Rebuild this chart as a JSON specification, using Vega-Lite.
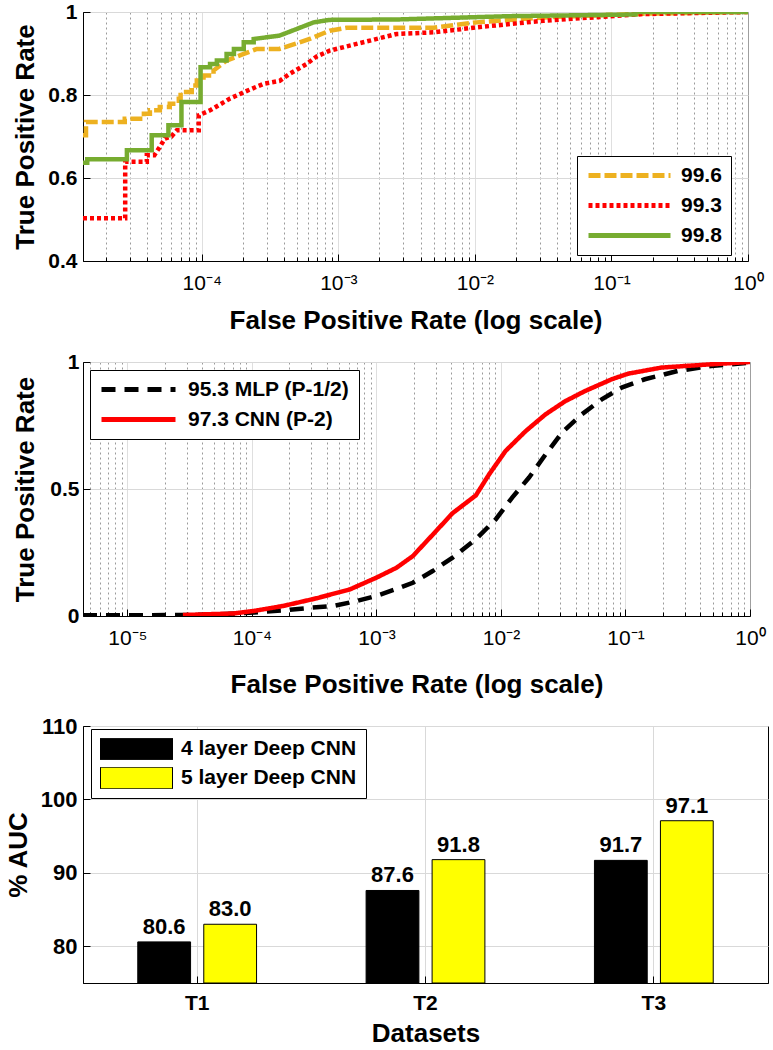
{
  "$schema": "https://vega.github.io/schema/vega-lite/v6.json",
  "padding": {"left": 4, "top": 0, "right": 2, "bottom": 0},
  "spacing": 16,
  "resolve": {"scale": {"color": "independent", "strokeDash": "independent"}, "legend": {"color": "independent", "strokeDash": "independent"}},
  "config": {
    "font": "Liberation Sans",
    "view": {"stroke": "black", "strokeWidth": 1},
    "axis": {
      "domainColor": "black", "tickColor": "black", "labelColor": "black", "titleColor": "black",
      "labelFont": "Liberation Sans", "titleFont": "Liberation Sans",
      "titleFontWeight": "bold", "titleFontSize": 26, "labelFontSize": 21, "labelFontWeight": "bold",
      "gridColor": "#d9d9d9", "gridOpacity": 1, "tickSize": -7, "labelFlush": false, "labelOverlap": false
    },
    "legend": {
      "labelFont": "Liberation Sans", "labelFontSize": 21, "labelFontWeight": "bold", "labelColor": "black",
      "labelLimit": 0, "strokeColor": "black", "fillColor": "white"
    }
  },
  "vconcat": [
    {
      "width": 665, "height": 249,
      "data": {"values": [
        {"model": "99.6", "i": 1, "fpr": 1.35e-5, "tpr": 0.703},
        {"model": "99.6", "i": 2, "fpr": 1.42e-5, "tpr": 0.703},
        {"model": "99.6", "i": 3, "fpr": 1.42e-5, "tpr": 0.735},
        {"model": "99.6", "i": 4, "fpr": 2.73e-5, "tpr": 0.735},
        {"model": "99.6", "i": 5, "fpr": 2.73e-5, "tpr": 0.743},
        {"model": "99.6", "i": 6, "fpr": 3.77e-5, "tpr": 0.743},
        {"model": "99.6", "i": 7, "fpr": 3.77e-5, "tpr": 0.755},
        {"model": "99.6", "i": 8, "fpr": 4.17e-5, "tpr": 0.755},
        {"model": "99.6", "i": 9, "fpr": 4.17e-5, "tpr": 0.763},
        {"model": "99.6", "i": 10, "fpr": 4.93e-5, "tpr": 0.763},
        {"model": "99.6", "i": 11, "fpr": 4.93e-5, "tpr": 0.771},
        {"model": "99.6", "i": 12, "fpr": 5.83e-5, "tpr": 0.771},
        {"model": "99.6", "i": 13, "fpr": 5.83e-5, "tpr": 0.779},
        {"model": "99.6", "i": 14, "fpr": 6.79e-5, "tpr": 0.779},
        {"model": "99.6", "i": 15, "fpr": 6.79e-5, "tpr": 0.791},
        {"model": "99.6", "i": 16, "fpr": 7.0e-5, "tpr": 0.791},
        {"model": "99.6", "i": 17, "fpr": 7.0e-5, "tpr": 0.807},
        {"model": "99.6", "i": 18, "fpr": 8.45e-5, "tpr": 0.807},
        {"model": "99.6", "i": 19, "fpr": 8.45e-5, "tpr": 0.823},
        {"model": "99.6", "i": 20, "fpr": 9.2e-5, "tpr": 0.823},
        {"model": "99.6", "i": 21, "fpr": 9.2e-5, "tpr": 0.835},
        {"model": "99.6", "i": 22, "fpr": 1.03e-4, "tpr": 0.835},
        {"model": "99.6", "i": 23, "fpr": 1.03e-4, "tpr": 0.847},
        {"model": "99.6", "i": 24, "fpr": 1.22e-4, "tpr": 0.847},
        {"model": "99.6", "i": 25, "fpr": 1.22e-4, "tpr": 0.859},
        {"model": "99.6", "i": 26, "fpr": 1.52e-4, "tpr": 0.883},
        {"model": "99.6", "i": 27, "fpr": 2.03e-4, "tpr": 0.899},
        {"model": "99.6", "i": 28, "fpr": 2.53e-4, "tpr": 0.911},
        {"model": "99.6", "i": 29, "fpr": 3.7e-4, "tpr": 0.911},
        {"model": "99.6", "i": 30, "fpr": 4.4e-4, "tpr": 0.919},
        {"model": "99.6", "i": 31, "fpr": 6.17e-4, "tpr": 0.935},
        {"model": "99.6", "i": 32, "fpr": 8.65e-4, "tpr": 0.955},
        {"model": "99.6", "i": 33, "fpr": 1.15e-3, "tpr": 0.962},
        {"model": "99.6", "i": 34, "fpr": 4.99e-3, "tpr": 0.962},
        {"model": "99.6", "i": 35, "fpr": 1.03e-2, "tpr": 0.975},
        {"model": "99.6", "i": 36, "fpr": 3.18e-2, "tpr": 0.987},
        {"model": "99.6", "i": 37, "fpr": 0.171, "tpr": 0.996},
        {"model": "99.6", "i": 38, "fpr": 1, "tpr": 1.0},
        {"model": "99.3", "i": 1, "fpr": 1.35e-5, "tpr": 0.503},
        {"model": "99.3", "i": 2, "fpr": 2.75e-5, "tpr": 0.503},
        {"model": "99.3", "i": 3, "fpr": 2.75e-5, "tpr": 0.639},
        {"model": "99.3", "i": 4, "fpr": 3.96e-5, "tpr": 0.639},
        {"model": "99.3", "i": 5, "fpr": 3.96e-5, "tpr": 0.655},
        {"model": "99.3", "i": 6, "fpr": 4.5e-5, "tpr": 0.655},
        {"model": "99.3", "i": 7, "fpr": 4.93e-5, "tpr": 0.675},
        {"model": "99.3", "i": 8, "fpr": 5.37e-5, "tpr": 0.695},
        {"model": "99.3", "i": 9, "fpr": 6.0e-5, "tpr": 0.700},
        {"model": "99.3", "i": 10, "fpr": 6.57e-5, "tpr": 0.715},
        {"model": "99.3", "i": 11, "fpr": 9.5e-5, "tpr": 0.715},
        {"model": "99.3", "i": 12, "fpr": 9.5e-5, "tpr": 0.751},
        {"model": "99.3", "i": 13, "fpr": 1.15e-4, "tpr": 0.763},
        {"model": "99.3", "i": 14, "fpr": 1.6e-4, "tpr": 0.791},
        {"model": "99.3", "i": 15, "fpr": 2.14e-4, "tpr": 0.810},
        {"model": "99.3", "i": 16, "fpr": 2.84e-4, "tpr": 0.827},
        {"model": "99.3", "i": 17, "fpr": 3.72e-4, "tpr": 0.834},
        {"model": "99.3", "i": 18, "fpr": 4.4e-4, "tpr": 0.851},
        {"model": "99.3", "i": 19, "fpr": 5.87e-4, "tpr": 0.875},
        {"model": "99.3", "i": 20, "fpr": 6.95e-4, "tpr": 0.893},
        {"model": "99.3", "i": 21, "fpr": 8.65e-4, "tpr": 0.907},
        {"model": "99.3", "i": 22, "fpr": 2.67e-3, "tpr": 0.947},
        {"model": "99.3", "i": 23, "fpr": 4.99e-3, "tpr": 0.951},
        {"model": "99.3", "i": 24, "fpr": 1.03e-2, "tpr": 0.963},
        {"model": "99.3", "i": 25, "fpr": 3.18e-2, "tpr": 0.979},
        {"model": "99.3", "i": 26, "fpr": 0.171, "tpr": 0.995},
        {"model": "99.3", "i": 27, "fpr": 1, "tpr": 1.0},
        {"model": "99.8", "i": 1, "fpr": 1.35e-5, "tpr": 0.637},
        {"model": "99.8", "i": 2, "fpr": 1.45e-5, "tpr": 0.637},
        {"model": "99.8", "i": 3, "fpr": 1.45e-5, "tpr": 0.645},
        {"model": "99.8", "i": 4, "fpr": 2.83e-5, "tpr": 0.645},
        {"model": "99.8", "i": 5, "fpr": 2.83e-5, "tpr": 0.667},
        {"model": "99.8", "i": 6, "fpr": 4.3e-5, "tpr": 0.667},
        {"model": "99.8", "i": 7, "fpr": 4.3e-5, "tpr": 0.703},
        {"model": "99.8", "i": 8, "fpr": 5.7e-5, "tpr": 0.703},
        {"model": "99.8", "i": 9, "fpr": 5.7e-5, "tpr": 0.727},
        {"model": "99.8", "i": 10, "fpr": 7.1e-5, "tpr": 0.727},
        {"model": "99.8", "i": 11, "fpr": 7.1e-5, "tpr": 0.783},
        {"model": "99.8", "i": 12, "fpr": 9.8e-5, "tpr": 0.783},
        {"model": "99.8", "i": 13, "fpr": 9.8e-5, "tpr": 0.867},
        {"model": "99.8", "i": 14, "fpr": 1.15e-4, "tpr": 0.867},
        {"model": "99.8", "i": 15, "fpr": 1.15e-4, "tpr": 0.875},
        {"model": "99.8", "i": 16, "fpr": 1.29e-4, "tpr": 0.875},
        {"model": "99.8", "i": 17, "fpr": 1.29e-4, "tpr": 0.883},
        {"model": "99.8", "i": 18, "fpr": 1.52e-4, "tpr": 0.883},
        {"model": "99.8", "i": 19, "fpr": 1.52e-4, "tpr": 0.899},
        {"model": "99.8", "i": 20, "fpr": 1.72e-4, "tpr": 0.899},
        {"model": "99.8", "i": 21, "fpr": 1.72e-4, "tpr": 0.911},
        {"model": "99.8", "i": 22, "fpr": 2.03e-4, "tpr": 0.911},
        {"model": "99.8", "i": 23, "fpr": 2.03e-4, "tpr": 0.927},
        {"model": "99.8", "i": 24, "fpr": 2.4e-4, "tpr": 0.927},
        {"model": "99.8", "i": 25, "fpr": 2.4e-4, "tpr": 0.935},
        {"model": "99.8", "i": 26, "fpr": 3.7e-4, "tpr": 0.943},
        {"model": "99.8", "i": 27, "fpr": 4.95e-4, "tpr": 0.959},
        {"model": "99.8", "i": 28, "fpr": 6.6e-4, "tpr": 0.975},
        {"model": "99.8", "i": 29, "fpr": 8.6e-4, "tpr": 0.981},
        {"model": "99.8", "i": 30, "fpr": 2.7e-3, "tpr": 0.982},
        {"model": "99.8", "i": 31, "fpr": 1.8e-2, "tpr": 0.99},
        {"model": "99.8", "i": 32, "fpr": 0.15, "tpr": 0.994},
        {"model": "99.8", "i": 33, "fpr": 0.15, "tpr": 1.0},
        {"model": "99.8", "i": 34, "fpr": 1, "tpr": 1.0}
      ]},
      "mark": {"type": "line", "strokeWidth": 4.5, "clip": true},
      "encoding": {
        "x": {
          "field": "fpr", "type": "quantitative",
          "scale": {"type": "log", "domain": [1.35e-5, 1], "nice": false},
          "axis": {
            "title": "False Positive Rate (log scale)",
            "values": [2e-5,3e-5,4e-5,5e-5,6e-5,7e-5,8e-5,9e-5,1e-4,2e-4,3e-4,4e-4,5e-4,6e-4,7e-4,8e-4,9e-4,1e-3,2e-3,3e-3,4e-3,5e-3,6e-3,7e-3,8e-3,9e-3,0.01,0.02,0.03,0.04,0.05,0.06,0.07,0.08,0.09,0.1,0.2,0.3,0.4,0.5,0.6,0.7,0.8,0.9,1],
            "labelExpr": "abs(log(datum.value)/LN10 - round(log(datum.value)/LN10)) < 0.01 ? ['10⁰','10⁻¹','10⁻²','10⁻³','10⁻⁴','10⁻⁵'][-round(log(datum.value)/LN10)] : ''",
            "labelFontWeight": "normal",
            "labelPadding": 18, "titlePadding": 11,
            "gridDash": {"condition": {"test": "abs(log(datum.value)/LN10 - round(log(datum.value)/LN10)) < 0.01", "value": [1, 0]}, "value": [2, 3]},
            "gridColor": {"condition": {"test": "abs(log(datum.value)/LN10 - round(log(datum.value)/LN10)) < 0.01", "value": "#d4d4d4"}, "value": "#9a9a9a"},
            "tickSize": {"condition": {"test": "abs(log(datum.value)/LN10 - round(log(datum.value)/LN10)) < 0.01", "value": -7}, "value": -4}
          }
        },
        "y": {
          "field": "tpr", "type": "quantitative",
          "scale": {"domain": [0.4, 1], "nice": false, "zero": false},
          "axis": {"title": "True Positive Rate", "values": [0.4, 0.6, 0.8, 1], "format": "~g", "labelPadding": 13, "titlePadding": 9}
        },
        "color": {
          "field": "model", "type": "nominal",
          "scale": {"domain": ["99.6", "99.3", "99.8"], "range": ["#EDB120", "#FF0000", "#77AC30"]},
          "legend": {"title": null, "orient": "none", "legendX": 494, "legendY": 144, "symbolType": "stroke", "symbolSize": 6724, "symbolStrokeWidth": 5, "clipHeight": 21, "rowPadding": 8, "labelOffset": 8, "padding": 9}
        },
        "strokeDash": {
          "field": "model", "type": "nominal",
          "scale": {"domain": ["99.6", "99.3", "99.8"], "range": [[12, 4], [4, 3], [1, 0]]},
          "legend": {"title": null, "orient": "none", "legendX": 494, "legendY": 144, "symbolType": "stroke", "symbolSize": 6724, "symbolStrokeWidth": 5, "clipHeight": 21, "rowPadding": 8, "labelOffset": 8, "padding": 9}
        },
        "order": {"field": "i", "type": "quantitative"}
      }
    },
    {
      "width": 667, "height": 254,
      "data": {"values": [
        {"model": "95.3 MLP (P-1/2)", "fpr": 4.4e-6, "tpr": 0.003},
        {"model": "95.3 MLP (P-1/2)", "fpr": 1e-5, "tpr": 0.003},
        {"model": "95.3 MLP (P-1/2)", "fpr": 3e-5, "tpr": 0.004},
        {"model": "95.3 MLP (P-1/2)", "fpr": 5e-5, "tpr": 0.006},
        {"model": "95.3 MLP (P-1/2)", "fpr": 1.05e-4, "tpr": 0.014},
        {"model": "95.3 MLP (P-1/2)", "fpr": 1.8e-4, "tpr": 0.022},
        {"model": "95.3 MLP (P-1/2)", "fpr": 3.03e-4, "tpr": 0.033},
        {"model": "95.3 MLP (P-1/2)", "fpr": 4.49e-4, "tpr": 0.039},
        {"model": "95.3 MLP (P-1/2)", "fpr": 6.94e-4, "tpr": 0.059},
        {"model": "95.3 MLP (P-1/2)", "fpr": 1e-3, "tpr": 0.079},
        {"model": "95.3 MLP (P-1/2)", "fpr": 1.54e-3, "tpr": 0.111},
        {"model": "95.3 MLP (P-1/2)", "fpr": 1.96e-3, "tpr": 0.131},
        {"model": "95.3 MLP (P-1/2)", "fpr": 2.83e-3, "tpr": 0.177},
        {"model": "95.3 MLP (P-1/2)", "fpr": 4.09e-3, "tpr": 0.23},
        {"model": "95.3 MLP (P-1/2)", "fpr": 6.29e-3, "tpr": 0.302},
        {"model": "95.3 MLP (P-1/2)", "fpr": 9.1e-3, "tpr": 0.381},
        {"model": "95.3 MLP (P-1/2)", "fpr": 1.23e-2, "tpr": 0.466},
        {"model": "95.3 MLP (P-1/2)", "fpr": 1.68e-2, "tpr": 0.545},
        {"model": "95.3 MLP (P-1/2)", "fpr": 2.28e-2, "tpr": 0.636},
        {"model": "95.3 MLP (P-1/2)", "fpr": 3.09e-2, "tpr": 0.722},
        {"model": "95.3 MLP (P-1/2)", "fpr": 4.46e-2, "tpr": 0.794},
        {"model": "95.3 MLP (P-1/2)", "fpr": 6.45e-2, "tpr": 0.853},
        {"model": "95.3 MLP (P-1/2)", "fpr": 9.31e-2, "tpr": 0.899},
        {"model": "95.3 MLP (P-1/2)", "fpr": 0.143, "tpr": 0.932},
        {"model": "95.3 MLP (P-1/2)", "fpr": 0.264, "tpr": 0.965},
        {"model": "95.3 MLP (P-1/2)", "fpr": 0.487, "tpr": 0.984},
        {"model": "95.3 MLP (P-1/2)", "fpr": 1, "tpr": 0.997},
        {"model": "97.3 CNN (P-2)", "fpr": 2.79e-5, "tpr": 0.004},
        {"model": "97.3 CNN (P-2)", "fpr": 7.18e-5, "tpr": 0.010},
        {"model": "97.3 CNN (P-2)", "fpr": 1.04e-4, "tpr": 0.02},
        {"model": "97.3 CNN (P-2)", "fpr": 1.8e-4, "tpr": 0.04},
        {"model": "97.3 CNN (P-2)", "fpr": 3.32e-4, "tpr": 0.07},
        {"model": "97.3 CNN (P-2)", "fpr": 6.14e-4, "tpr": 0.105},
        {"model": "97.3 CNN (P-2)", "fpr": 1.0e-3, "tpr": 0.151},
        {"model": "97.3 CNN (P-2)", "fpr": 1.45e-3, "tpr": 0.19},
        {"model": "97.3 CNN (P-2)", "fpr": 1.96e-3, "tpr": 0.236},
        {"model": "97.3 CNN (P-2)", "fpr": 2.83e-3, "tpr": 0.32},
        {"model": "97.3 CNN (P-2)", "fpr": 4.09e-3, "tpr": 0.405},
        {"model": "97.3 CNN (P-2)", "fpr": 6.29e-3, "tpr": 0.475},
        {"model": "97.3 CNN (P-2)", "fpr": 8.04e-3, "tpr": 0.558},
        {"model": "97.3 CNN (P-2)", "fpr": 1.09e-2, "tpr": 0.65},
        {"model": "97.3 CNN (P-2)", "fpr": 1.58e-2, "tpr": 0.728},
        {"model": "97.3 CNN (P-2)", "fpr": 2.28e-2, "tpr": 0.794},
        {"model": "97.3 CNN (P-2)", "fpr": 3.29e-2, "tpr": 0.846},
        {"model": "97.3 CNN (P-2)", "fpr": 4.75e-2, "tpr": 0.886},
        {"model": "97.3 CNN (P-2)", "fpr": 7.75e-2, "tpr": 0.932},
        {"model": "97.3 CNN (P-2)", "fpr": 0.105, "tpr": 0.954},
        {"model": "97.3 CNN (P-2)", "fpr": 0.194, "tpr": 0.978},
        {"model": "97.3 CNN (P-2)", "fpr": 0.487, "tpr": 0.991},
        {"model": "97.3 CNN (P-2)", "fpr": 1, "tpr": 1.0}
      ]},
      "mark": {"type": "line", "strokeWidth": 4.5, "clip": true},
      "encoding": {
        "x": {
          "field": "fpr", "type": "quantitative",
          "scale": {"type": "log", "domain": [4.4e-6, 1], "nice": false},
          "axis": {
            "title": "False Positive Rate (log scale)",
            "values": [5e-6,6e-6,7e-6,8e-6,9e-6,1e-5,2e-5,3e-5,4e-5,5e-5,6e-5,7e-5,8e-5,9e-5,1e-4,2e-4,3e-4,4e-4,5e-4,6e-4,7e-4,8e-4,9e-4,1e-3,2e-3,3e-3,4e-3,5e-3,6e-3,7e-3,8e-3,9e-3,0.01,0.02,0.03,0.04,0.05,0.06,0.07,0.08,0.09,0.1,0.2,0.3,0.4,0.5,0.6,0.7,0.8,0.9,1],
            "labelExpr": "abs(log(datum.value)/LN10 - round(log(datum.value)/LN10)) < 0.01 ? ['10⁰','10⁻¹','10⁻²','10⁻³','10⁻⁴','10⁻⁵'][-round(log(datum.value)/LN10)] : ''",
            "labelFontWeight": "normal",
            "labelPadding": 18, "titlePadding": 20,
            "gridDash": {"condition": {"test": "abs(log(datum.value)/LN10 - round(log(datum.value)/LN10)) < 0.01", "value": [1, 0]}, "value": [2, 3]},
            "gridColor": {"condition": {"test": "abs(log(datum.value)/LN10 - round(log(datum.value)/LN10)) < 0.01", "value": "#d4d4d4"}, "value": "#9a9a9a"},
            "tickSize": {"condition": {"test": "abs(log(datum.value)/LN10 - round(log(datum.value)/LN10)) < 0.01", "value": -7}, "value": -4}
          }
        },
        "y": {
          "field": "tpr", "type": "quantitative",
          "scale": {"domain": [0, 1], "nice": false},
          "axis": {"title": "True Positive Rate", "values": [0, 0.5, 1], "format": "~g", "labelPadding": 11, "titlePadding": 11}
        },
        "color": {
          "field": "model", "type": "nominal",
          "scale": {"domain": ["95.3 MLP (P-1/2)", "97.3 CNN (P-2)"], "range": ["#000000", "#FF0000"]},
          "legend": {"title": null, "orient": "none", "legendX": 7, "legendY": 8, "symbolType": "stroke", "symbolSize": 5476, "symbolStrokeWidth": 5, "clipHeight": 21, "rowPadding": 8, "labelOffset": 10, "padding": 9}
        },
        "strokeDash": {
          "field": "model", "type": "nominal",
          "scale": {"domain": ["95.3 MLP (P-1/2)", "97.3 CNN (P-2)"], "range": [[14, 9], [1, 0]]},
          "legend": {"title": null, "orient": "none", "legendX": 7, "legendY": 8, "symbolType": "stroke", "symbolSize": 5476, "symbolStrokeWidth": 5, "clipHeight": 21, "rowPadding": 8, "labelOffset": 10, "padding": 9}
        }
      }
    },
    {
      "width": 685, "height": 257,
      "data": {"values": [
        {"dataset": "T1", "model": "4 layer Deep CNN", "auc": 80.6},
        {"dataset": "T1", "model": "5 layer Deep CNN", "auc": 83.0},
        {"dataset": "T2", "model": "4 layer Deep CNN", "auc": 87.6},
        {"dataset": "T2", "model": "5 layer Deep CNN", "auc": 91.8},
        {"dataset": "T3", "model": "4 layer Deep CNN", "auc": 91.7},
        {"dataset": "T3", "model": "5 layer Deep CNN", "auc": 97.1}
      ]},
      "encoding": {
        "x": {
          "field": "dataset", "type": "nominal",
          "scale": {"paddingInner": 0, "paddingOuter": 0},
          "axis": {"title": "Datasets", "labelAngle": 0, "bandPosition": 0.5, "grid": true, "labelPadding": 16, "titlePadding": 7}
        },
        "xOffset": {"field": "model", "type": "nominal", "scale": {"paddingInner": 0.2, "paddingOuter": 0.83}},
        "y": {
          "field": "auc", "type": "quantitative",
          "scale": {"domain": [75, 110], "nice": false, "zero": false},
          "axis": {"title": "% AUC", "values": [80, 90, 100, 110], "labelFontSize": 22, "labelPadding": 13, "titlePadding": 9}
        }
      },
      "layer": [
        {
          "mark": {"type": "bar", "stroke": "black", "strokeWidth": 1},
          "encoding": {
            "y2": {"datum": 75},
            "color": {
              "field": "model", "type": "nominal",
              "scale": {"domain": ["4 layer Deep CNN", "5 layer Deep CNN"], "range": ["#000000", "#FFFF00"]},
              "legend": {"title": null, "orient": "none", "legendX": 8, "legendY": 3, "symbolType": "M-1,-0.3H1V0.3H-1Z", "symbolSize": 5184, "symbolStrokeColor": "black", "symbolStrokeWidth": 1, "symbolOpacity": 1, "clipHeight": 22, "rowPadding": 7, "labelOffset": 8, "padding": 9}
            }
          }
        },
        {
          "mark": {"type": "text", "baseline": "bottom", "dy": -3, "fontSize": 22, "fontWeight": "bold", "font": "Liberation Sans", "color": "black"},
          "encoding": {"text": {"field": "auc", "type": "quantitative", "format": ".1f"}}
        }
      ]
    }
  ]
}
